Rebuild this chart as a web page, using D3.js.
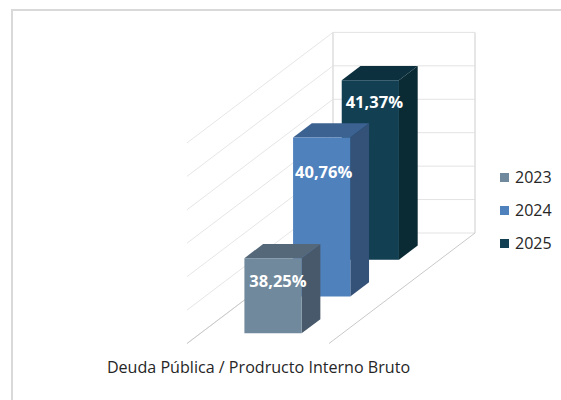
<!DOCTYPE html>
<html><head><meta charset="utf-8">
<script src="https://cdn.jsdelivr.net/npm/d3@7/dist/d3.min.js"></script>
<style>html,body{margin:0;padding:0;background:#fff}svg{display:block}text{font-family:"Open Sans",sans-serif}</style>
</head><body><svg id="c" width="561" height="400"></svg>
<script>
const years = ["2023", "2024", "2025"];
const values = [38.25, 40.76, 41.37];
const labels = ["38,25%", "40,76%", "41,37%"];
const axisTitle = "Deuda Pública / Prodructo Interno Bruto";
const frontColors = ["#71899c", "#4f81bd", "#123f52"];
const sideColors = ["#47596a", "#345178", "#0a2a34"];
const topColors = ["#54687a", "#3c6291", "#0c303e"];

const svg = d3.select("#c");
const val = d3.scaleLinear().domain([36, 42]).range([0, 200.6]);
const depthX = d3.scaleLinear().domain([0, 3]).range([0, 146]);
const depthY = d3.scaleLinear().domain([0, 3]).range([0, -110.5]);
const across = d3.scaleLinear().domain([0, 1]).range([187, 329]);
const floorY = 343.5;
const project = (a, d, v) => [across(a) + depthX(d), floorY + depthY(d) - val(v)];
const poly = pts => "M" + pts.map(p => p.join(",")).join("L") + "Z";
const seg = (a, b) => "M" + a.join(",") + "L" + b.join(",");

// chart frame
svg.append("path").attr("d", "M12,400V10H561").attr("fill", "none").attr("stroke", "#d9d9d9").attr("stroke-width", 2);

// walls
const ticks = d3.range(36, 42.5, 1);
svg.selectAll("path.side").data(ticks).join("path").attr("class", "side")
  .attr("d", t => seg(project(0, 0, t), project(0, 3, t)))
  .attr("stroke", "#e6e6e6").attr("fill", "none");
svg.selectAll("path.back").data(ticks).join("path").attr("class", "back")
  .attr("d", t => seg(project(0, 3, t), project(1, 3, t)))
  .attr("stroke", "#e3e3e3").attr("fill", "none");
[0, 1].forEach(a => svg.append("path")
  .attr("d", seg(project(a, 3, 36), project(a, 3, 42)))
  .attr("stroke", "#dedede").attr("stroke-width", 1.5).attr("fill", "none"));
[0, 1].forEach(a => svg.append("path")
  .attr("d", seg(project(a, 0, 36), project(a, 3, 36)))
  .attr("stroke", "#c9c9c9").attr("fill", "none"));

// bars, back to front
const a0 = 0.31, a1 = 0.713, gap = 0.275, thick = 0.385;
const order = d3.range(years.length).reverse();
const bars = svg.selectAll("g.bar").data(order).join("g").attr("class", "bar");
bars.append("path").attr("fill", i => sideColors[i])
  .attr("d", i => { const d = i + gap, e = d + thick, v = values[i];
    return poly([project(a1, d, 36), project(a1, e, 36), project(a1, e, v), project(a1, d, v)]); });
bars.append("path").attr("fill", i => topColors[i])
  .attr("d", i => { const d = i + gap, e = d + thick, v = values[i];
    return poly([project(a0, d, v), project(a1, d, v), project(a1, e, v), project(a0, e, v)]); });
bars.append("path").attr("fill", i => frontColors[i])
  .attr("d", i => { const d = i + gap, v = values[i];
    return poly([project(a0, d, 36), project(a1, d, 36), project(a1, d, v), project(a0, d, v)]); });

// data labels
const labelDrop = [23, 34.5, 22];
const labelShift = [5, 2, 4];
bars.append("text").text(i => labels[i])
  .attr("x", i => project((a0 + a1) / 2, i + gap, 36)[0] + labelShift[i])
  .attr("y", i => project(a0, i + gap, values[i])[1] + labelDrop[i])
  .attr("dy", "0.35em").attr("text-anchor", "middle")
  .attr("fill", "#fff").attr("font-weight", 700).attr("font-size", 16.5);

// category label
svg.append("text").text(axisTitle).attr("x", 258.5).attr("y", 372.5)
  .attr("text-anchor", "middle").attr("fill", "#262626").attr("font-size", 16.1);

// legend
const legendY = d3.scalePoint().domain(years).range([177.5, 243.5]);
const leg = svg.selectAll("g.leg").data(years).join("g").attr("class", "leg")
  .attr("transform", y => `translate(500,${legendY(y)})`);
leg.append("rect").attr("y", -4.5).attr("width", 9).attr("height", 9)
  .attr("fill", (y, i) => frontColors[i]);
leg.append("text").text(y => y).attr("x", 15).attr("dy", "0.36em")
  .attr("fill", "#262626").attr("font-size", 16);
</script></body></html>
